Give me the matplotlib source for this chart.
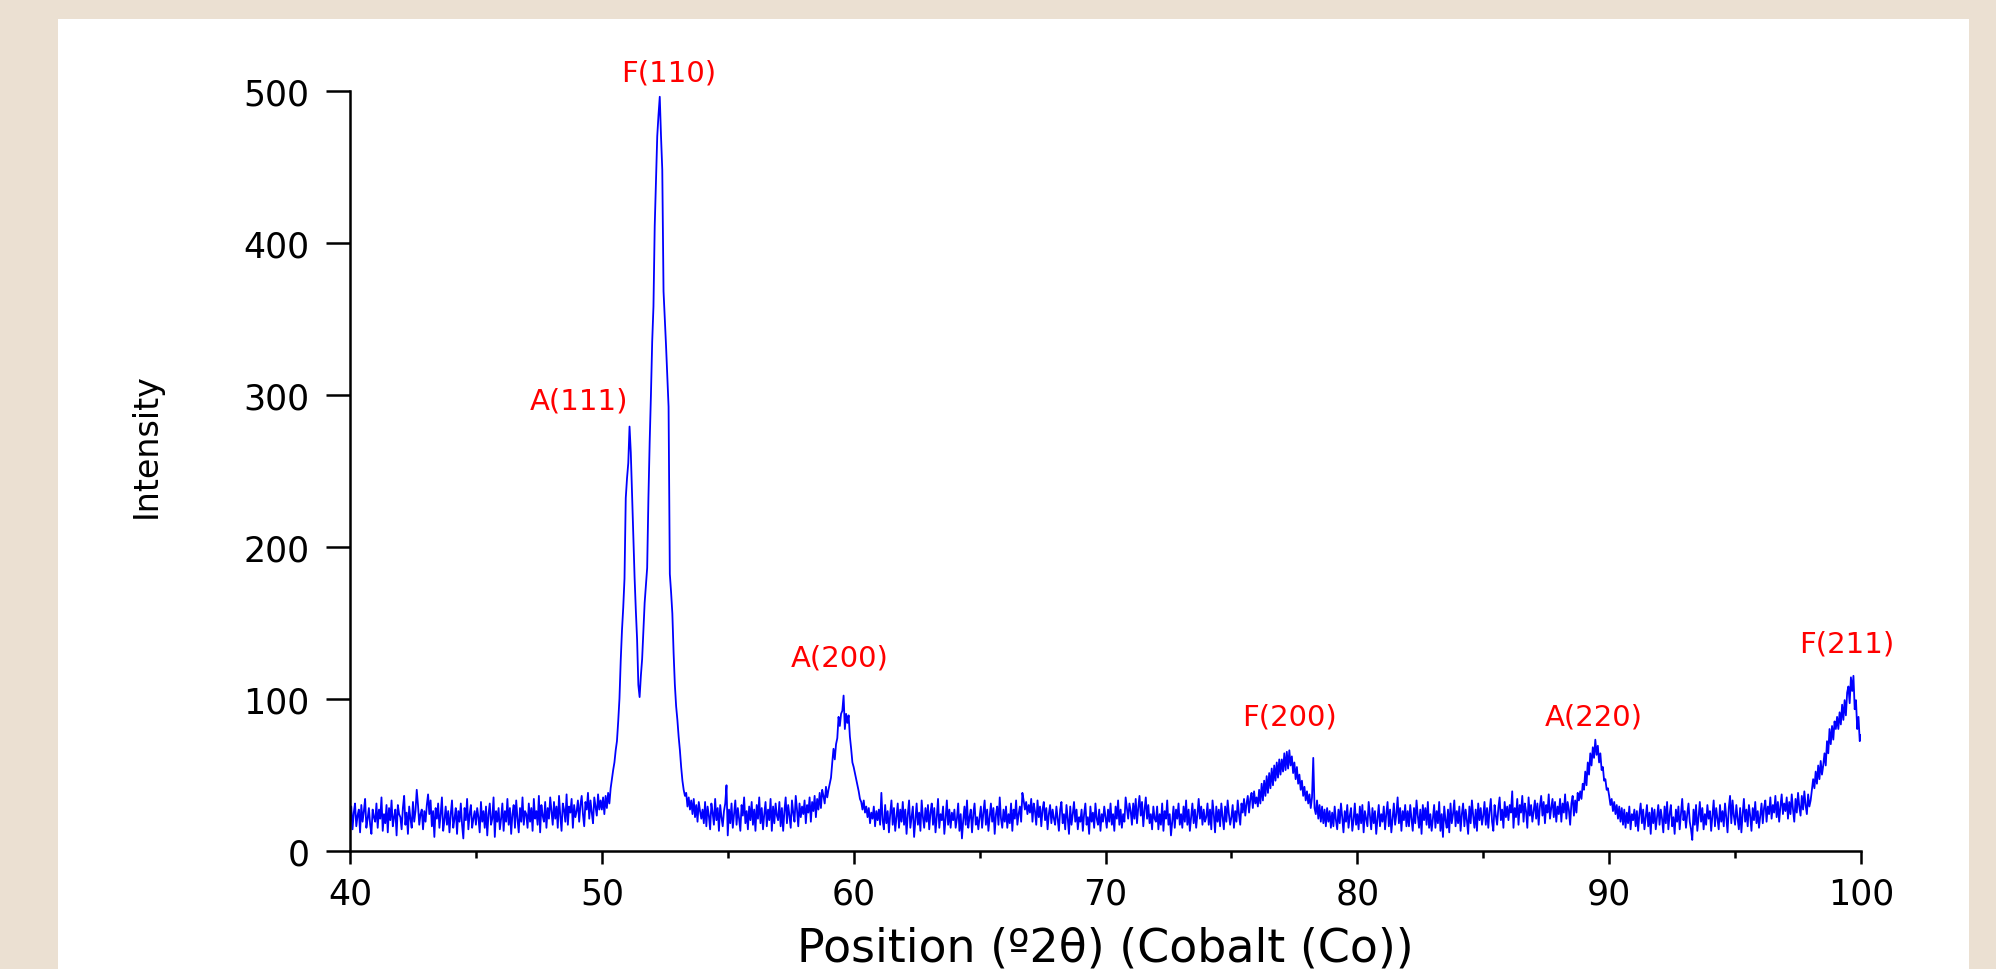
import numpy as np
import matplotlib
matplotlib.use("Agg")
import matplotlib.pyplot as plt
from matplotlib.patches import Rectangle

# intensity, one row per degree (step 0.05 deg)
intensity = [
    18, 29, 14, 25, 31, 16, 23, 27, 12, 30, 19, 26, 34, 15, 21, 28, 17, 11, 27, 22,  # 40
    19, 31, 15, 27, 21, 35, 13, 24, 18, 30, 12, 28, 20, 33, 16, 22, 27, 10, 30, 24,  # 41
    22, 14, 28, 36, 17, 25, 11, 29, 21, 15, 32, 19, 26, 40, 30, 17, 24, 27, 14, 26,  # 42
    19, 30, 37, 24, 33, 16, 26, 9, 28, 21, 31, 15, 24, 35, 13, 20, 29, 17, 26, 12,  # 43
    24, 33, 15, 21, 28, 11, 26, 19, 31, 17, 8, 28, 20, 34, 14, 24, 30, 15, 21, 26,  # 44
    17, 28, 22, 12, 32, 19, 26, 15, 29, 10, 24, 31, 17, 21, 35, 9, 26, 19, 28, 14,  # 45
    21, 31, 13, 26, 19, 34, 17, 28, 11, 24, 30, 15, 33, 21, 12, 28, 19, 35, 17, 26,  # 46
    24, 15, 31, 19, 28, 13, 34, 21, 26, 17, 36, 12, 30, 23, 19, 32, 15, 28, 21, 35,  # 47
    26, 17, 32, 21, 29, 15, 36, 23, 13, 31, 27, 19, 37, 17, 29, 25, 34, 15, 30, 22,  # 48
    26, 33, 19, 30, 36, 24, 16, 32, 27, 38, 21, 33, 25, 18, 35, 29, 23, 37, 27, 33,  # 49
    27, 35, 24, 36, 28, 38, 31, 41, 47, 53, 58, 66, 72, 85, 100, 125, 145, 160, 179, 232,  # 50
    245, 255, 279, 262, 235, 206, 180, 158, 139, 109, 101, 115, 126, 145, 163, 175, 186, 232, 269, 300,  # 51
    335, 358, 411, 440, 470, 484, 496, 470, 448, 368, 350, 332, 312, 292, 182, 170, 156, 130, 109, 95,  # 52
    86, 75, 66, 55, 46, 40, 36, 38, 29, 35, 27, 33, 24, 34, 22, 30, 19, 32, 26, 21,  # 53
    27, 18, 32, 16, 29, 23, 14, 31, 25, 17, 34, 20, 28, 13, 30, 22, 16, 26, 31, 43,  # 54
    10, 27, 18, 31, 15, 24, 33, 17, 28, 21, 13, 30, 23, 35, 18, 26, 14, 29, 20, 32,  # 55
    17, 27, 13, 30, 21, 35, 18, 28, 14, 24, 32, 16, 27, 20, 34, 13, 29, 18, 31, 23,  # 56
    20, 32, 16, 28, 13, 26, 35, 18, 30, 23, 15, 33, 25, 19, 36, 27, 16, 31, 22, 29,  # 57
    24, 33, 18, 30, 25, 35, 19, 32, 26, 36, 22, 34, 27, 38, 28, 40, 36, 31, 42, 35,  # 58
    40, 44, 48, 58, 67, 60, 70, 74, 88, 82, 90, 92, 102, 80, 90, 84, 89, 75, 67, 58,  # 59
    55, 51, 47, 43, 39, 34, 32, 27, 33, 25, 29, 22, 28, 18, 25, 21, 29, 16, 26, 20,  # 60
    27, 17, 38, 20, 14, 30, 18, 26, 12, 24, 33, 17, 28, 13, 22, 31, 15, 27, 19, 32,  # 61
    17, 27, 11, 24, 33, 15, 22, 29, 9, 20, 31, 17, 25, 13, 33, 22, 15, 28, 19, 30,  # 62
    14, 25, 31, 17, 28, 12, 22, 34, 15, 24, 20, 29, 11, 21, 33, 17, 27, 15, 25, 20,  # 63
    27, 15, 21, 31, 13, 24, 8, 20, 29, 17, 33, 15, 22, 27, 12, 24, 31, 17, 22, 14,  # 64
    22, 29, 15, 25, 33, 17, 27, 13, 22, 31, 19, 28, 11, 24, 29, 17, 35, 21, 15, 27,  # 65
    19, 29, 15, 24, 18, 31, 13, 27, 21, 33, 17, 24, 29, 19, 38, 33, 27, 32, 24, 30,  # 66
    25, 34, 19, 31, 26, 17, 33, 22, 29, 16, 27, 32, 20, 28, 14, 24, 30, 18, 27, 21,  # 67
    17, 29, 21, 13, 27, 32, 18, 24, 14, 30, 21, 11, 29, 17, 24, 32, 19, 27, 14, 22,  # 68
    19, 27, 13, 24, 31, 17, 22, 11, 29, 19, 25, 15, 31, 21, 17, 27, 13, 24, 19, 29,  # 69
    22, 15, 27, 19, 31, 17, 24, 13, 29, 21, 33, 17, 27, 15, 24, 19, 35, 28, 21, 31,  # 70
    26, 17, 31, 21, 34, 18, 28, 36, 23, 32, 16, 27, 35, 21, 30, 18, 24, 14, 29, 21,  # 71
    19, 29, 14, 24, 17, 31, 13, 26, 21, 33, 17, 24, 10, 19, 29, 15, 27, 21, 31, 17,  # 72
    24, 15, 29, 19, 33, 17, 27, 13, 22, 31, 18, 27, 15, 24, 34, 21, 29, 17, 27, 19,  # 73
    22, 31, 17, 27, 14, 33, 24, 12, 29, 19, 27, 16, 31, 22, 14, 29, 19, 33, 24, 17,  # 74
    22, 30, 15, 26, 19, 33, 24, 17, 31, 25, 34, 23, 31, 36, 25, 34, 38, 28, 39, 31,  # 75
    35, 29, 40, 31, 44, 33, 46, 36, 49, 38, 51, 41, 54, 43, 56, 46, 58, 48, 60, 50,  # 76
    60, 52, 64, 53, 65, 54, 66, 56, 62, 51, 58, 47, 55, 44, 50, 40, 46, 36, 42, 33,  # 77
    39, 31, 37, 28, 35, 61, 28, 24, 33, 21, 30, 19, 29, 18, 27, 16, 28, 19, 26, 15,  # 78
    25, 16, 29, 20, 14, 27, 18, 31, 22, 12, 26, 19, 30, 15, 23, 28, 13, 20, 31, 17,  # 79
    24, 14, 29, 18, 30, 12, 26, 21, 16, 32, 23, 14, 28, 18, 26, 11, 21, 30, 16, 24,  # 80
    19, 29, 14, 24, 32, 16, 27, 12, 21, 31, 17, 24, 35, 18, 28, 13, 26, 20, 30, 16,  # 81
    26, 16, 30, 21, 13, 28, 18, 33, 23, 15, 27, 11, 30, 20, 28, 17, 32, 15, 24, 13,  # 82
    21, 30, 15, 26, 18, 32, 13, 24, 9, 29, 20, 15, 27, 12, 31, 18, 24, 33, 16, 26,  # 83
    18, 29, 13, 24, 31, 16, 27, 20, 11, 29, 18, 33, 23, 15, 27, 13, 31, 20, 28, 17,  # 84
    23, 32, 17, 28, 15, 26, 34, 19, 13, 30, 23, 17, 28, 35, 20, 27, 15, 32, 22, 29,  # 85
    20, 30, 25, 39, 15, 28, 22, 34, 17, 30, 25, 36, 19, 31, 26, 15, 35, 23, 30, 19,  # 86
    26, 33, 21, 31, 17, 29, 36, 23, 32, 18, 30, 25, 37, 21, 28, 34, 22, 32, 19, 29,  # 87
    24, 34, 19, 31, 25, 37, 21, 32, 27, 17, 31, 36, 23, 33, 25, 38, 33, 39, 34, 44,  # 88
    40, 52, 43, 58, 50, 64, 56, 68, 61, 73, 63, 69, 58, 64, 53, 55, 46, 47, 40, 41,  # 89
    36, 30, 34, 26, 32, 24, 30, 21, 29, 19, 28, 17, 27, 15, 25, 18, 29, 14, 24, 20,  # 90
    27, 16, 26, 13, 24, 31, 18, 27, 14, 22, 30, 16, 25, 11, 28, 18, 27, 14, 22, 30,  # 91
    17, 27, 21, 12, 29, 18, 32, 14, 24, 30, 16, 22, 11, 27, 19, 29, 14, 24, 34, 20,  # 92
    26, 15, 24, 31, 19, 14, 7, 27, 17, 30, 13, 22, 32, 19, 28, 14, 24, 17, 30, 21,  # 93
    26, 13, 23, 33, 16, 28, 21, 14, 30, 19, 26, 16, 31, 22, 12, 28, 36, 18, 33, 23,  # 94
    17, 30, 21, 14, 28, 12, 24, 34, 19, 27, 16, 30, 23, 13, 28, 20, 32, 18, 26, 15,  # 95
    23, 31, 18, 28, 33, 19, 29, 24, 35, 21, 30, 25, 36, 22, 32, 19, 29, 37, 24, 31,  # 96
    26, 35, 21, 32, 24, 37, 27, 19, 34, 25, 38, 29, 23, 36, 27, 39, 30, 24, 37, 29,  # 97
    33, 40, 47, 41, 52, 44, 56, 47, 59, 50, 56, 64, 56, 72, 64, 80, 70, 82, 73, 85,  # 98
    80, 88, 80, 91, 83, 96, 86, 99, 89, 104, 108, 97, 114, 105, 115, 93, 99, 80, 88, 72,  # 99
    76,  # 100
]
two_theta = np.linspace(40, 100, len(intensity))

peak_labels = ['F(110)', 'A(111)', 'A(200)', 'F(200)', 'A(220)', 'F(211)']
peak_x = [52.65, 49.1, 59.45, 77.3, 89.4, 99.45]
peak_y = [512, 296, 127, 88, 88, 136]

xticks = [40, 50, 60, 70, 80, 90, 100]
yticks = [0, 100, 200, 300, 400, 500]

plt.rcParams['font.family'] = ['DejaVu Sans']

fig = plt.figure(figsize=(19.96, 9.70), dpi=100, facecolor='#ebe0d2')
# white panel on the beige page
fig.add_artist(Rectangle((58 / 1996, 0), (1969 - 58) / 1996, 950 / 970,
                         transform=fig.transFigure, facecolor='white',
                         edgecolor='none', zorder=-1))

ax = fig.add_axes([350 / 1996, 118.4 / 970, 1511 / 1996, 759.9 / 970])
ax.set_facecolor('none')
ax.plot(two_theta, intensity, '-', color='#0000ff', linewidth=1.3)

for lab, px, py in zip(peak_labels, peak_x, peak_y):
    ax.text(px, py, lab, color='#ff0000', fontsize=21, ha='center', va='center')

ax.set_xlim(40, 100)
ax.set_ylim(0, 500)
ax.set_xticks(xticks)
ax.set_xticks([45, 55, 65, 75, 85, 95], minor=True)
ax.set_yticks(yticks)
ax.tick_params(axis='both', labelsize=25, width=1.8, direction='out')
ax.tick_params(axis='y', length=17, pad=12)
ax.tick_params(axis='x', which='major', length=9.5, pad=9)
ax.tick_params(axis='x', which='minor', length=5, width=1.8)

for s in ['top', 'right']:
    ax.spines[s].set_visible(False)
for s in ['left', 'bottom']:
    ax.spines[s].set_linewidth(1.8)

ax.set_xlabel('Position (º2θ) (Cobalt (Co))', fontsize=33)
ax.xaxis.set_label_coords(0.5, -0.098)
ax.set_ylabel('Intensity', fontsize=24)
ax.yaxis.set_label_coords(-0.124, 0.534)

plt.savefig('out.png', dpi=100, facecolor=fig.get_facecolor())
